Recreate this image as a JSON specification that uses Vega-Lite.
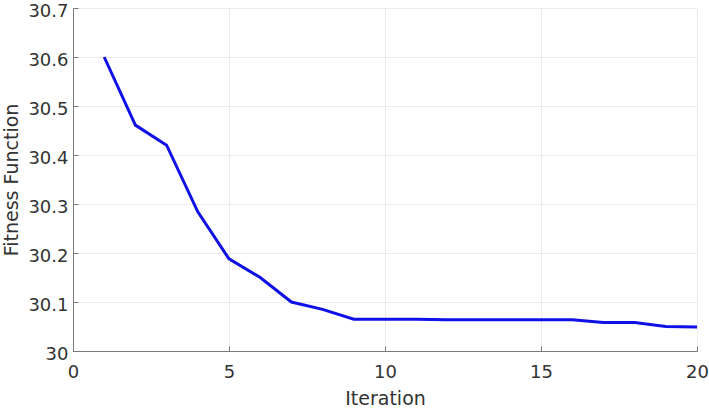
{
  "$schema": "https://vega.github.io/schema/vega-lite/v6.json",
  "width": 624,
  "height": 343,
  "autosize": "none",
  "padding": {"left": 73, "top": 8, "right": 12, "bottom": 61},
  "background": "white",
  "config": {
    "view": {"stroke": null},
    "font": "DejaVu Sans",
    "axis": {
      "labelFont": "DejaVu Sans",
      "titleFont": "DejaVu Sans",
      "labelFontSize": 18,
      "titleFontSize": 19,
      "labelColor": "#333333",
      "titleColor": "#333333",
      "titleFontWeight": "normal",
      "domainColor": "#7a7a7a",
      "tickColor": "#7a7a7a",
      "gridColor": "#ebebeb",
      "gridWidth": 1,
      "tickSize": -5,
      "labelPadding": 10
    }
  },
  "data": {
    "values": [
      {"iter": 1, "fit": 30.6},
      {"iter": 2, "fit": 30.461},
      {"iter": 3, "fit": 30.42},
      {"iter": 4, "fit": 30.284},
      {"iter": 5, "fit": 30.188},
      {"iter": 6, "fit": 30.15},
      {"iter": 7, "fit": 30.1},
      {"iter": 8, "fit": 30.085},
      {"iter": 9, "fit": 30.065},
      {"iter": 10, "fit": 30.065},
      {"iter": 11, "fit": 30.065},
      {"iter": 12, "fit": 30.064},
      {"iter": 13, "fit": 30.064},
      {"iter": 14, "fit": 30.064},
      {"iter": 15, "fit": 30.064},
      {"iter": 16, "fit": 30.064},
      {"iter": 17, "fit": 30.058},
      {"iter": 18, "fit": 30.058},
      {"iter": 19, "fit": 30.05},
      {"iter": 20, "fit": 30.049}
    ]
  },
  "mark": {"type": "line", "color": "#1010e8", "strokeWidth": 3, "clip": true},
  "encoding": {
    "x": {
      "field": "iter",
      "type": "quantitative",
      "title": "Iteration",
      "scale": {"domain": [0, 20], "nice": false, "zero": false},
      "axis": {"values": [0, 5, 10, 15, 20], "format": "d", "labelPadding": 17, "titlePadding": 8, "labelFlush": false}
    },
    "y": {
      "field": "fit",
      "type": "quantitative",
      "title": "Fitness Function",
      "scale": {"domain": [30, 30.7], "nice": false, "zero": false},
      "axis": {"values": [30, 30.1, 30.2, 30.3, 30.4, 30.5, 30.6, 30.7], "format": "~g", "titlePadding": 6, "labelFlush": false, "labelPadding": 10, "labelOffset": 3}
    }
  }
}
